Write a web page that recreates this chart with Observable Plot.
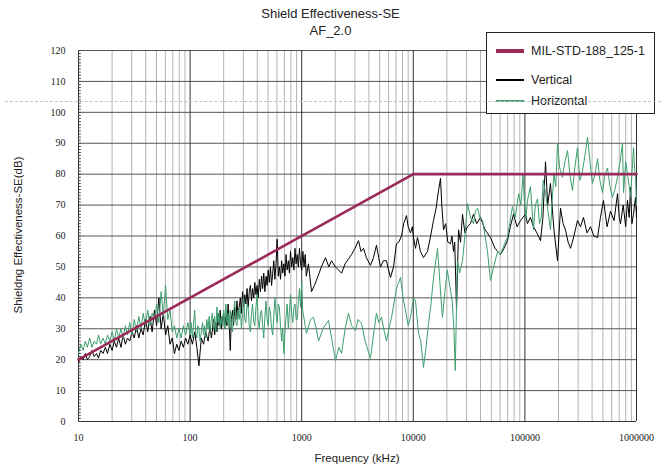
<!DOCTYPE html>
<html>
<head>
<meta charset="utf-8">
<script src="https://cdn.jsdelivr.net/npm/d3@7"></script>
<script src="https://cdn.jsdelivr.net/npm/@observablehq/plot@0.6"></script>
<style>
  html, body { margin: 0; padding: 0; background: #fff; }
  #wrap { position: relative; width: 661px; height: 469px; background: #fff; overflow: hidden; font-family: "Liberation Sans", Arial, sans-serif; color: #222; }
  #wrap svg { position: absolute; left: 0; top: 0; }
  .title { position: absolute; left: 0; width: 661px; text-align: center; font-size: 13px; line-height: 17px; }
  .xlabel { position: absolute; left: 78px; width: 558px; top: 452px; text-align: center; font-size: 11.5px; }
  .ylabel { position: absolute; left: -132px; width: 300px; top: 229px; text-align: center; font-size: 11.5px; transform: rotate(-90deg); transform-origin: 50% 50%; }
  .legend { position: absolute; left: 486px; top: 32px; width: 169px; height: 82px; box-sizing: border-box; border: 1px solid #222; background: #fff; }
  .sw { position: absolute; left: 9px; width: 28px; }
  .lt { position: absolute; left: 44px; font-size: 12.5px; line-height: 16px; white-space: nowrap; }
  .dash { position: absolute; left: 5px; width: 656px; top: 101px; border-top: 1px dashed #c4c4c4; }
</style>
</head>
<body>
<div id="wrap"></div>
<script>
// ---- Data ----
const xTicks = [10, 100, 1000, 10000, 100000, 1000000];
const yTicks = [0, 10, 20, 30, 40, 50, 60, 70, 80, 90, 100, 110, 120];

const limitFreq = [10, 10000, 1000000];
const limitSE = [20, 80, 80];

const vertical = [
  [10,19],[10.5,21],[11,20],[11.5,22],[12,20],[12.6,21],[13.2,23],[13.8,21],[14.5,22],[15.1,20.5],
  [15.8,23],[16.6,22],[17.4,24],[18.2,22],[19.1,25],[20,23],[20.9,26],[21.9,24],[22.9,27],[24,24],
  [25.1,28],[26.3,25],[27.5,27],[28.8,26],[30.2,29],[31.6,27],[33.1,31],[34.7,27],[36.3,30],[38,28],
  [39.8,33],[41.7,29],[43.7,34],[45.7,29],[47.9,36],[50.1,31],[52.5,40],[55,30],[57.5,35],[60.3,28],
  [63.1,31],[66.1,25],[69.2,27],[72.4,22],[75.9,25],[79.4,23],[83.2,26],[87.1,24],[91.2,27],[95.5,25],
  [100,28],[105,25],[110,29],[115,24],[120,18],[126,27],[132,25],[138,29],[145,26],
  [151,31],[155,27],[158,29],[162,33],[166,28],[170,32],[174,29],[178,35],[182,31],[186,36],
  [191,30],[195,33],[200,35],[204,30],[209,34],[214,31],[219,38],[224,32],[229,23],[234,33],
  [240,36],[245,31],[251,37],[257,33],[263,39],[269,34],[275,37],[282,40],[288,35],[295,42],
  [302,37],[309,41],[316,38],[324,43],[331,37],[339,42],[347,44],[355,39],[363,43],[372,40],
  [380,45],[389,41],[398,44],[407,40],[417,46],[427,42],[437,47],[447,43],[457,48],[468,42],
  [479,47],[490,44],[501,49],[513,45],[525,50],[537,44],[550,48],[562,52],[575,46],[589,51],
  [603,59],[617,47],[631,50],[646,46],[661,52],[676,48],[692,51],[708,47],[724,54],[741,49],
  [759,52],[776,48],[794,55],[813,50],[832,53],[851,49],[871,56],[891,51],[912,54],[933,50],
  [955,56],[977,51],[1000,49],
  [1025,55],[1050,50],[1075,54],[1100,47],[1150,51],[1225,42],[1300,44],[1400,47],[1500,50],[1633,53],[1750,50],[1849,52],
  [2000,50],[2274,48],[2450,51],[2795,54],[3000,56],[3228,58.5],[3400,55],[3580,56],[3800,53],[4133,50.5],
  [4400,53],[4677,57],[4900,53],[5080,50],[5400,52],[5750,52],[6000,49],[6250,46.6],[6650,50],[7070,57.5],
  [7400,58],[7840,60],[8200,64],[8690,66.6],[9000,63],[9440,61],[9800,63],
  [10000,60],[10470,56],[10900,59.5],[11600,55],[12340,53],[13400,55],[14300,60],[15170,65],[16000,69],[16830,74.7],
  [17530,78.6],[18000,70],[18650,62],[19500,64],[20400,58],[21550,57.5],[22200,60],[22930,55],[23500,58],[24400,36],
  [25430,62],[26500,58],[27600,67],[29000,61],[30600,63],[32500,64],[34600,67],[37000,64],[40000,66],[44000,62],
  [49200,59.5],[54000,56],[60400,54],[65000,56],[69800,58.5],[74000,63],[79000,67],[85000,63],[91400,65],[96000,66],
  [101200,67],[105400,64],[112000,66],[119400,63],[128000,61],[138000,58.5],[145000,66],[153000,84],[160000,70],[169500,77],
  [182000,62],[196000,52],[208500,69],[220000,64],[231000,62],[244000,58],[256600,56],[275000,60],[296000,65],[315000,63],
  [335000,66],[360000,61],[387000,63],[415000,60],[448000,59.5],[475000,66],[506000,71.5],[545000,63],[585000,68],[630000,65],
  [676000,73.7],[700000,66],[719000,64],[760000,70],[800000,63],[830000,71.5],[860000,66],[884000,75.7],[910000,64],[940000,67],
  [960000,70],[980000,72.5],[1000000,66]
];

const horizontal = [
  [10,22],[10.5,25],[11,23],[11.5,26],[12,24],[12.6,27],[13.2,24],[13.8,26],[14.5,25],[15.1,28],
  [15.8,25],[16.6,27],[17.4,25],[18.2,28],[19.1,26],[20,29],[20.9,26],[21.9,30],[22.9,27],[24,30],
  [25.1,27],[26.3,31],[27.5,28],[28.8,32],[30.2,28],[31.6,33],[33.1,29],[34.7,34],[36.3,30],[38,35],
  [39.8,31],[41.7,36],[43.7,31],[45.7,35],[47.9,33],[50.1,38],[52.5,32],[55,42],[57.5,34],[60.3,44],
  [63.1,33],[66.1,36],[69.2,29],[72.4,31],[75.9,27],[79.4,30],[83.2,27],[87.1,31],[91.2,28],[95.5,32],
  [100,28],[102,32],[105,27],[107,31],[110,36],[112,29],[115,27],[117,31],[120,30],[123,26],
  [126,29],[129,32],[132,28],[135,31],[138,27],[141,33],[145,30],[148,34],[151,29],[155,33],
  [158,35],[162,30],[166,34],[170,29],[174,37],[178,32],[182,35],[186,30],[191,34],[195,31],
  [200,36],[204,30],[209,38],[214,32],[219,35],[224,30],[229,36],[234,31],[240,29],[245,35],
  [251,39],[257,32],[263,31],[269,36],[275,33],[282,37],[288,30],[295,35],[302,40],[309,33],
  [316,32],[324,38],[331,37],[339,31],[347,29],[355,35],[363,38],[372,32],[380,31],[389,37],
  [398,41],[407,33],[417,30],[427,35],[437,36],[447,31],[457,27],[468,34],[479,39],[490,33],
  [501,31],[513,37],[525,35],[537,30],[550,28],[562,34],[575,40],[589,35],[603,32],[617,38],
  [631,37],[646,31],[661,26],[676,30],[692,22],[708,29],[724,34],[741,38],[759,30],[776,36],
  [794,41],[813,35],[832,32],[851,37],[871,38],[891,33],[912,33],[933,39],[955,43],[977,37],[1000,45],
  [1020,36],[1104,28.5],[1200,33],[1276,33.7],[1350,30],[1416,26],[1550,30],[1738,32.7],[1850,27],[2009,19.7],
  [2150,24],[2274,22],[2450,30],[2626,35],[2800,31],[3035,29.4],[3200,33],[3436,31.7],[3700,26],[4133,20.4],
  [4400,28],[4677,35],[4900,32],[5188,33.7],[5500,29],[5750,26],[6050,30],[6380,33.7],[6700,38],[7070,43],
  [7680,46.6],[8100,40],[8510,36],[9000,31],[9440,33.7],
  [10040,40],[10470,39],[11140,28.5],[11660,26],[12340,17.5],[13000,24],[13680,31.7],[14400,38],[15170,46.6],[16500,56],
  [17300,45],[18240,33.7],[19200,42],[20170,49],[21200,44],[22330,39],[23100,30],[23770,16.5],[24850,52],[26000,48],
  [27600,52],[29000,60],[30600,70.5],[32500,66],[34600,64],[36000,68],[37700,69],[39500,66],[41700,65],[44000,60],
  [46200,55],[49200,45.6],[52500,50],[56900,55],[60400,54],[65000,57],[69800,59.5],[73000,64],[77300,69.5],[82000,66],
  [87900,73.7],[92000,70],[96300,80],[98400,72.5],
  [102000,66],[106000,72],[112200,76],[116000,68],[119400,62],[124000,70],[129800,72],[135000,64],[140000,66],[146000,78],
  [153000,74],[161000,68],[169500,62],[176000,72],[182000,80],[189000,76],[196000,90],[205000,82],[217000,79],[228000,84],
  [241000,87.6],[253000,80],[267000,74.7],[280000,82],[296000,88.6],[311000,78],[328000,81],[345000,86],[364000,92],[383000,84],
  [403000,77],[425000,80],[448000,85],[470000,78],[496000,74],[522000,80],[550000,82],[578000,76],[609000,72.5],[640000,75],
  [676000,79],[712000,84],[749000,90],[766000,74],[800000,84],[830000,80],[860000,76],[884000,72.5],[910000,80],[940000,88.6],
  [960000,82],[980000,79],[1000000,70]
];

const legendLabels = ["MIL-STD-188_125-1", "Vertical", "Horizontal"];
const legendColors = ["#9a2a5a", "#000000", "#3c9f6e"];

// ---- Chart ----
const minorX = xTicks.slice(0, -1).flatMap(d => [2, 3, 4, 5, 6, 7, 8, 9].map(k => k * d));
const minorY = d3.range(0, 121, 1);
const limit = limitFreq.map((f, i) => ({f, se: limitSE[i]}));

const chart = Plot.plot({
  width: 661,
  height: 469,
  marginLeft: 78,
  marginRight: 25,
  marginTop: 50,
  marginBottom: 48,
  x: {type: "log", domain: [10, 1000000]},
  y: {domain: [0, 120]},
  style: {background: "transparent", fontFamily: "'Liberation Serif', serif", fontSize: "10px", color: "#222"},
  marks: [
    Plot.ruleX(minorX, {stroke: "#b4b4b4", strokeWidth: 1}),
    Plot.ruleY(yTicks, {stroke: "#555", strokeWidth: 1}),
    Plot.ruleX(xTicks, {stroke: "#333", strokeWidth: 1}),
    Plot.ruleY([0], {stroke: "#333", strokeWidth: 1.2}),
    Plot.ruleY(minorY, {x1: 10, x2: 10.6, stroke: "#444", strokeWidth: 1}),
    Plot.axisX({ticks: xTicks, tickSize: 0, tickPadding: 12, tickFormat: d => String(d), label: null, fill: "#222"}),
    Plot.axisY({ticks: yTicks, tickSize: 0, tickPadding: 13, label: null, fill: "#222"}),
    Plot.line(vertical, {x: d => d[0], y: d => d[1], stroke: legendColors[1], strokeWidth: 1}),
    Plot.line(horizontal, {x: d => d[0], y: d => d[1], stroke: legendColors[2], strokeWidth: 1}),
    Plot.line(limit, {x: "f", y: "se", stroke: legendColors[0], strokeWidth: 2.6})
  ]
});

const wrap = document.getElementById("wrap");
wrap.appendChild(chart);

function addDiv(cls, text, styles) {
  const el = document.createElement("div");
  el.className = cls;
  if (text != null) el.textContent = text;
  Object.assign(el.style, styles || {});
  wrap.appendChild(el);
  return el;
}
addDiv("title", "Shield Effectiveness-SE", {top: "5px"});
addDiv("title", "AF_2.0", {top: "22px"});
addDiv("xlabel", "Frequency (kHz)");
addDiv("ylabel", "Shieldng Effectiveness-SE(dB)");

const legend = addDiv("legend", null);
const rowY = [18, 47, 68];
const swH = [4, 2, 2];
legendLabels.forEach((lab, i) => {
  const sw = document.createElement("div");
  sw.className = "sw";
  sw.style.top = (rowY[i] - swH[i] / 2) + "px";
  sw.style.height = swH[i] + "px";
  sw.style.background = legendColors[i];
  legend.appendChild(sw);
  const t = document.createElement("div");
  t.className = "lt";
  t.style.top = (rowY[i] - 8) + "px";
  t.textContent = lab;
  legend.appendChild(t);
});
addDiv("dash", null);
</script>
</body>
</html>
